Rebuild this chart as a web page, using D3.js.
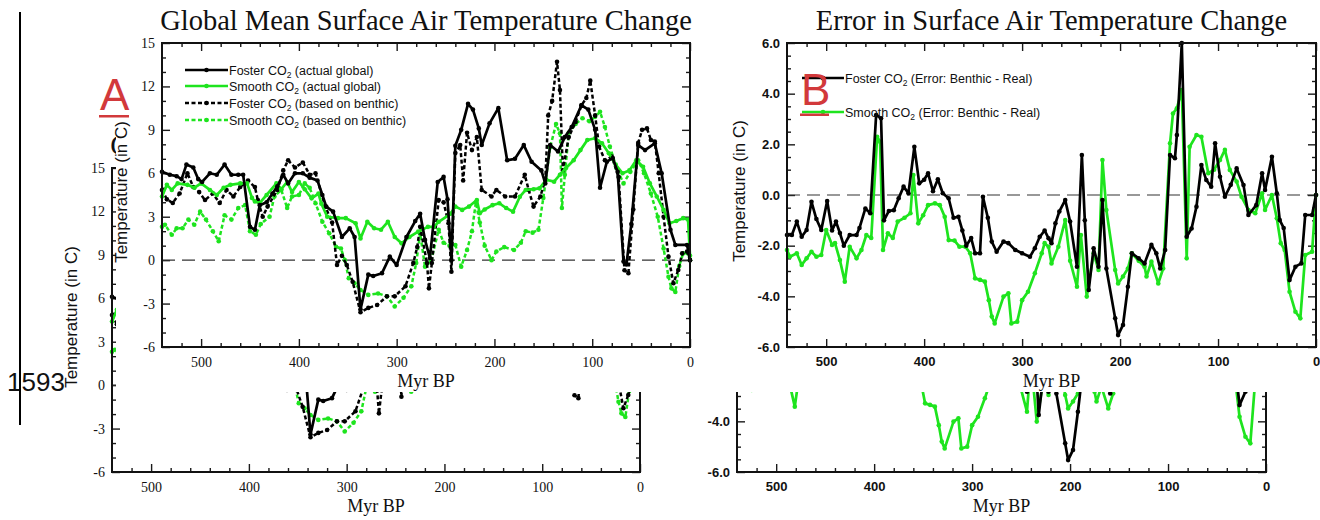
<!DOCTYPE html>
<html>
<head>
<meta charset="utf-8">
<script src="https://cdn.jsdelivr.net/npm/d3@7"></script>
<style>
  html, body { margin: 0; padding: 0; background: #fff; }
  svg { display: block; }
</style>
</head>
<body>
<svg id="chart" width="1320" height="520"></svg>
<script>
// ---- Panel A: global mean surface air temperature change (°C) vs age (Myr BP) ----
const fosterGlobal = [[540,6.1],[532,5.9],[525,5.8],[520,5.6],[515,6.6],[508,6.4],[503,5.6],[499,5.4],[491,6.0],[484,5.9],[476,6.6],[469,5.9],[462,5.9],[457,5.9],[450,2.3],[445,2.1],[440,3.8],[433,4.0],[427,4.6],[422,5.1],[416,5.9],[411,5.3],[404,6.0],[396,6.0],[389,5.7],[381,5.5],[376,4.5],[372,3.7],[365,3.35],[356,1.6],[348,2.2],[343,1.6],[337,-3.4],[329,-1.0],[324,-1.1],[315,-0.9],[307,0.24],[300,-0.34],[290,1.6],[281,2.7],[276,3.2],[271,1.4],[266,0.15],[258,5.4],[252,5.75],[248,4.2],[244,0.0],[240,7.9],[234,9.0],[227,10.8],[222,10.4],[216,9.1],[213,7.95],[205,9.45],[196,10.5],[187,6.9],[179,7.0],[170,7.95],[162,6.8],[152,6.2],[148,5.3],[143,7.95],[135,7.5],[128,8.5],[121,9.2],[111,10.7],[104,10.4],[97,9.0],[92,5.0],[85,6.8],[79,7.05],[74,6.1],[68,-0.1],[65,-0.3],[60,2.5],[53,7.95],[46,7.6],[36,8.07],[29,6.0],[20,2.1],[15,1.05],[3,1.05],[0,0]];
const smoothGlobal = [[540,4.4],[535,5.2],[530,4.85],[524,5.3],[514,5.2],[507,5.0],[500,5.3],[491,4.85],[484,4.5],[477,5.0],[470,5.2],[460,5.3],[453,5.3],[448,4.3],[445,4.05],[440,3.95],[433,4.5],[423,5.3],[418,4.9],[412,5.4],[407,4.7],[400,5.4],[394,4.9],[387,4.27],[380,4.6],[377,3.9],[371,3.0],[360,2.9],[352,2.9],[342,2.55],[337,1.5],[330,2.65],[323,2.2],[316,2.1],[309,2.65],[302,1.6],[295,1.16],[287,1.6],[278,1.97],[268,2.3],[262,2.3],[257,2.65],[245,3.2],[240,3.7],[233,3.47],[226,3.7],[218,4.15],[215,3.24],[210,3.5],[202,3.8],[195,3.93],[188,3.6],[181,3.35],[174,4.38],[168,4.85],[160,4.9],[154,4.96],[147,5.55],[139,5.42],[133,5.9],[127,6.35],[119,6.9],[112,7.6],[105,8.3],[97,8.42],[90,8.07],[83,7.38],[76,6.6],[69,6.0],[62,6.2],[55,6.9],[48,6.45],[41,5.3],[34,4.4],[27,3.47],[21,2.55],[14,2.7],[7,2.9],[2,2.8],[0,0.3]];
const fosterBenthic = [[540,4.85],[535,4.2],[529,3.95],[522,4.6],[514,6.0],[508,5.05],[502,4.7],[496,4.15],[488,4.6],[481,3.95],[474,4.85],[467,4.4],[460,5.05],[452,5.5],[445,5.05],[442,4.15],[437,3.0],[432,3.7],[422,4.85],[416,6.2],[411,6.9],[404,6.4],[396,6.75],[389,5.9],[383,6.0],[373,3.7],[366,2.6],[361,-0.34],[356,0.3],[351,-0.34],[345,-1.5],[337,-3.6],[329,-3.3],[320,-3.1],[310,-2.5],[302,-2.5],[291,-1.8],[283,-0.2],[279,0.9],[276,2.3],[269,-0.2],[267,-1.95],[264,-0.2],[257,4.15],[252,4.0],[247,2.55],[244,-0.8],[240,7.4],[235,7.95],[232,5.5],[228,8.8],[223,7.6],[218,8.5],[213,4.85],[203,4.4],[198,4.85],[189,4.4],[179,4.4],[169,5.9],[165,4.85],[160,3.7],[153,4.4],[148,5.55],[145,10.0],[141,11.0],[136,13.7],[133,11.75],[130,6.2],[124,8.5],[117,9.55],[111,10.7],[106,11.2],[102,12.4],[97,10.0],[93,7.85],[87,6.9],[80,7.15],[73,5.75],[67,-0.7],[63,-0.9],[58,3.5],[53,8.1],[49,9.0],[44,9.1],[40,8.3],[36,8.2],[32,6.0],[27,3.0],[22,0.24],[17,-1.6],[12,-0.68],[8,0.47],[3,0.6],[0,0]];
const smoothBenthic = [[540,2.3],[537,2.45],[530,1.75],[525,2.2],[519,2.2],[513,2.8],[507,2.45],[501,3.35],[495,2.8],[488,2.0],[482,1.3],[476,3.1],[469,2.8],[462,3.6],[455,3.8],[450,2.0],[444,1.75],[439,2.5],[430,3.0],[425,4.4],[418,4.85],[412,3.6],[407,4.4],[400,4.5],[394,5.3],[389,5.0],[383,3.93],[376,2.65],[369,1.85],[362,0.93],[357,0.8],[353,0.0],[349,-1.25],[343,-1.6],[337,-2.06],[329,-2.4],[319,-2.3],[310,-2.5],[302,-3.2],[293,-2.6],[285,-1.8],[280,-0.2],[276,1.85],[271,-0.45],[265,-0.1],[257,2.1],[252,1.2],[246,1.0],[240,1.05],[234,-0.45],[228,0.7],[223,2.0],[219,4.0],[215,2.6],[210,1.0],[203,0.0],[198,0.6],[190,0.9],[180,0.7],[173,1.2],[168,2.0],[161,1.9],[155,2.1],[150,4.3],[143,7.8],[137,9.4],[133,8.76],[131,3.6],[128,5.9],[124,8.8],[117,9.4],[110,9.8],[103,9.6],[97,9.9],[92,10.25],[87,9.2],[82,7.85],[75,6.35],[68,5.3],[61,6.1],[53,6.9],[47,6.0],[40,4.6],[33,3.0],[27,0.8],[22,-1.15],[19,-1.95],[15,-2.2],[11,-0.4],[7,0.47],[2,0.47],[0,0]];

// ---- Panel B: error (benthic-based minus real) in surface air temperature change ----
const fosterError = [[540,-1.58],[535,-1.58],[530,-1.05],[525,-1.65],[520,-1.38],[515,-0.27],[510,-0.95],[505,-1.38],[499,-0.24],[494,-1.4],[490,-1.05],[486,-1.5],[482,-2.0],[476,-1.58],[469,-1.58],[466,-1.3],[460,-0.53],[455,-0.72],[449,3.16],[444,3.03],[441,-1.0],[436,-0.63],[431,-0.6],[426,-0.13],[421,0.33],[416,0.07],[410,1.9],[405,0.46],[400,0.6],[396,0.86],[391,0.15],[386,0.62],[381,0.07],[375,-0.13],[370,-0.9],[365,-0.86],[361,-1.4],[357,-2.0],[352,-1.7],[348,-2.3],[343,-2.3],[340,-0.07],[335,-0.9],[331,-1.84],[326,-2.24],[319,-1.84],[314,-1.9],[307,-2.17],[300,-2.3],[292,-2.44],[287,-2.1],[282,-1.65],[277,-1.4],[273,-1.71],[270,-1.9],[266,-1.12],[262,-0.65],[256,-0.2],[251,-1.05],[244,-2.83],[239,1.58],[236,-1.0],[232,-3.75],[227,-2.1],[222,-2.83],[218,-0.2],[214,-2.9],[205,-4.87],[202,-5.53],[197,-5.13],[192,-3.62],[188,-2.3],[181,-2.5],[175,-2.7],[168,-1.97],[163,-2.3],[159,-2.9],[154,-2.17],[149,1.58],[144,1.45],[142,2.37],[137,6.0],[132,-1.65],[127,-1.32],[122,-0.46],[117,1.18],[112,0.59],[107,0.33],[103,2.04],[98,0.72],[93,-0.07],[87,0.4],[81,1.05],[74,0.39],[69,-0.79],[61,-0.4],[55,0.86],[52,0.2],[45,1.51],[40,0.07],[37,-0.99],[33,-1.3],[27,-3.36],[21,-2.83],[15,-2.7],[11,-0.79],[4,-0.79],[0,0]];
const smoothError = [[540,-2.17],[537,-2.44],[530,-2.3],[525,-2.76],[520,-2.5],[515,-2.24],[510,-2.44],[505,-2.37],[500,-1.38],[494,-1.97],[491,-1.9],[486,-2.57],[481,-3.42],[476,-2.04],[469,-2.5],[464,-2.17],[459,-1.58],[454,-1.7],[448,2.3],[445,2.1],[442,-2.17],[437,-1.51],[432,-1.7],[427,-1.05],[420,-0.9],[414,-0.72],[411,0.79],[406,-1.12],[401,-0.8],[396,-0.4],[389,-0.33],[384,-0.4],[379,-0.86],[375,-1.78],[369,-1.8],[364,-2.04],[358,-2.04],[353,-2.3],[348,-3.29],[343,-3.35],[338,-3.42],[334,-4.15],[331,-4.8],[328,-5.07],[319,-4.01],[314,-3.88],[311,-5.07],[305,-5.0],[300,-4.15],[294,-3.82],[287,-3.09],[280,-2.3],[277,-1.9],[273,-2.04],[270,-2.7],[263,-2.04],[256,-0.99],[251,-2.6],[244,-3.62],[240,-1.58],[234,-4.01],[227,-2.3],[222,-2.96],[218,1.38],[214,-0.59],[205,-2.96],[202,-3.49],[197,-3.22],[192,-2.9],[188,-2.3],[181,-2.6],[175,-2.83],[173,-3.22],[168,-2.63],[161,-3.49],[156,-2.9],[149,2.04],[146,3.22],[142,3.42],[137,4.14],[132,-2.5],[129,1.9],[122,2.37],[117,2.3],[110,0.86],[104,1.0],[98,1.38],[93,1.78],[88,0.99],[81,0.53],[76,-0.07],[69,-0.59],[62,-0.72],[55,0.07],[52,-0.59],[45,0.0],[40,-0.92],[36,-1.9],[32,-2.17],[27,-3.82],[21,-4.61],[16,-4.87],[11,-2.37],[4,-2.24],[0,0]];

// ---- Tick labels ----
const ageTicks = [500, 400, 300, 200, 100, 0];
const ageMinorTicks = [520, 480, 460, 440, 420, 380, 360, 340, 320, 280, 260, 240, 220, 180, 160, 140, 120, 80, 60, 40, 20];
const globalYTicks = [-6, -3, 0, 3, 6, 9, 12, 15];
const errorYTicks = [-6, -4, -2, 0, 2, 4, 6];

const GREEN = "#1ee41e";
const BLACK = "#000";
const RED = "#d2393b";
const SERIF = "'Liberation Serif', 'Times New Roman', serif";
const SANS = "'Liberation Sans', Arial, sans-serif";

const panels = [
  {
    title: "Global Mean Surface Air Temperature Change",
    x0: 162, x1: 690, y0: 43, y1: 347,
    yDomain: [-6, 15], yTicks: globalYTicks, yMinorStep: 1,
    fmt: d => String(d), tickFont: SERIF, tickSize: "14px", tickWeight: "normal",
    yLabelX: 127, yLabelY: 192,
    series: [
      { data: smoothBenthic, color: GREEN, dash: "4,2.5", label: ["Smooth CO", " (based on benthic)"] },
      { data: fosterBenthic, color: BLACK, dash: "4,2.5", label: ["Foster CO", " (based on benthic)"] },
      { data: smoothGlobal,  color: GREEN, dash: null,    label: ["Smooth CO", " (actual global)"] },
      { data: fosterGlobal,  color: BLACK, dash: null,    label: ["Foster CO", " (actual global)"] }
    ],
    legendOrder: [3, 2, 1, 0], legendX: [185, 228], legendY: [70, 86, 103, 120]
  },
  {
    title: "Error in Surface Air Temperature Change",
    x0: 787, x1: 1316, y0: 43, y1: 347,
    yDomain: [-6, 6], yTicks: errorYTicks, yMinorStep: 0.5,
    fmt: d => d.toFixed(1), tickFont: SANS, tickSize: "13px", tickWeight: "bold",
    yLabelX: 745, yLabelY: 191,
    series: [
      { data: smoothError, color: GREEN, dash: null, label: ["Smooth CO", " (Error: Benthic - Real)"] },
      { data: fosterError, color: BLACK, dash: null, label: ["Foster CO", " (Error: Benthic - Real)"] }
    ],
    legendOrder: [1, 0], legendX: [802, 844], legendY: [78, 112]
  }
];

function styleAxis(sel, p, withLabels) {
  sel.select(".domain").remove();
  sel.selectAll(".tick line").attr("stroke", "#1a1a1a").attr("stroke-width", 1.4);
  sel.selectAll(".tick text")
    .attr("fill", "#111")
    .style("font-family", p.tickFont)
    .style("font-size", p.tickSize)
    .style("font-weight", p.tickWeight)
    .style("display", withLabels ? null : "none");
}

function drawPanel(root, p) {
  const g = root.append("g");
  const x = d3.scaleLinear().domain([540, 0]).range([p.x0, p.x1]);
  const y = d3.scaleLinear().domain(p.yDomain).range([p.y1, p.y0]);
  const yMinor = d3.range(p.yDomain[0], p.yDomain[1] + 1e-9, p.yMinorStep)
    .filter(v => !p.yTicks.some(t => Math.abs(t - v) < 1e-9));

  // title
  g.append("text")
    .attr("x", (p.x0 + p.x1) / 2).attr("y", 30)
    .attr("text-anchor", "middle")
    .style("font-family", SERIF).style("font-size", "28.5px")
    .attr("fill", "#111")
    .text(p.title);

  // inward ticks on all four sides
  const noFmt = () => "";
  g.append("g").attr("transform", `translate(0,${p.y1})`)
    .call(d3.axisBottom(x).tickValues(ageTicks).tickSize(-8).tickPadding(10).tickFormat(d => String(d)))
    .call(s => styleAxis(s, p, true));
  g.append("g").attr("transform", `translate(0,${p.y1})`)
    .call(d3.axisBottom(x).tickValues(ageMinorTicks).tickSize(-4).tickFormat(noFmt))
    .call(s => styleAxis(s, p, false));
  g.append("g").attr("transform", `translate(0,${p.y0})`)
    .call(d3.axisTop(x).tickValues(ageTicks).tickSize(-8).tickFormat(noFmt))
    .call(s => styleAxis(s, p, false));
  g.append("g").attr("transform", `translate(0,${p.y0})`)
    .call(d3.axisTop(x).tickValues(ageMinorTicks).tickSize(-4).tickFormat(noFmt))
    .call(s => styleAxis(s, p, false));
  g.append("g").attr("transform", `translate(${p.x0},0)`)
    .call(d3.axisLeft(y).tickValues(p.yTicks).tickSize(-8).tickPadding(7).tickFormat(p.fmt))
    .call(s => styleAxis(s, p, true));
  g.append("g").attr("transform", `translate(${p.x0},0)`)
    .call(d3.axisLeft(y).tickValues(yMinor).tickSize(-4).tickFormat(noFmt))
    .call(s => styleAxis(s, p, false));
  g.append("g").attr("transform", `translate(${p.x1},0)`)
    .call(d3.axisRight(y).tickValues(p.yTicks).tickSize(-8).tickFormat(noFmt))
    .call(s => styleAxis(s, p, false));
  g.append("g").attr("transform", `translate(${p.x1},0)`)
    .call(d3.axisRight(y).tickValues(yMinor).tickSize(-4).tickFormat(noFmt))
    .call(s => styleAxis(s, p, false));

  // zero reference line
  g.append("line")
    .attr("x1", p.x0).attr("x2", p.x1)
    .attr("y1", y(0)).attr("y2", y(0))
    .attr("stroke", "#333").attr("stroke-width", 1.2)
    .attr("stroke-dasharray", "13,7");

  // series
  const line = d3.line().x(d => x(d[0])).y(d => y(d[1]));
  p.series.forEach(s => {
    g.append("path")
      .datum(s.data)
      .attr("d", line)
      .attr("fill", "none")
      .attr("stroke", s.color)
      .attr("stroke-width", s.dash ? 2.5 : 2.7)
      .attr("stroke-linejoin", "round")
      .attr("stroke-dasharray", s.dash);
    g.append("g").selectAll("circle")
      .data(s.data)
      .join("circle")
      .attr("cx", d => x(d[0])).attr("cy", d => y(d[1]))
      .attr("r", 2.3)
      .attr("fill", s.color);
  });

  // frame
  g.append("rect")
    .attr("x", p.x0).attr("y", p.y0)
    .attr("width", p.x1 - p.x0).attr("height", p.y1 - p.y0)
    .attr("fill", "none").attr("stroke", "#111").attr("stroke-width", 2);

  // legend
  p.legendOrder.forEach((si, i) => {
    const s = p.series[si];
    const ly = p.legendY[i];
    const lg = g.append("g");
    lg.append("line")
      .attr("x1", p.legendX[0]).attr("x2", p.legendX[1])
      .attr("y1", ly).attr("y2", ly)
      .attr("stroke", s.color).attr("stroke-width", 2.6)
      .attr("stroke-dasharray", s.dash);
    lg.append("circle")
      .attr("cx", (p.legendX[0] + p.legendX[1]) / 2).attr("cy", ly)
      .attr("r", 2.3).attr("fill", s.color);
    const t = lg.append("text")
      .attr("x", p.legendX[1] + 1).attr("y", ly + 4.5)
      .style("font-family", SANS).style("font-size", "12.5px")
      .attr("fill", "#111");
    t.append("tspan").text(s.label[0]);
    t.append("tspan").attr("dy", 3).style("font-size", "8.5px").text("2");
    t.append("tspan").attr("dy", -3).text(s.label[1]);
  });

  // axis titles
  g.append("text")
    .attr("x", (p.x0 + p.x1) / 2).attr("y", 387)
    .attr("text-anchor", "middle")
    .style("font-family", SERIF).style("font-size", "18px")
    .attr("fill", "#111")
    .text("Myr BP");
  g.append("text")
    .attr("transform", `translate(${p.yLabelX},${p.yLabelY}) rotate(-90)`)
    .attr("text-anchor", "middle")
    .style("font-family", SANS).style("font-size", "17px")
    .attr("fill", "#111")
    .text("Temperature (in C)");
}

function drawFigure(root) {
  panels.forEach(p => drawPanel(root, p));
}

const svg = d3.select("#chart");
svg.append("rect").attr("width", 1320).attr("height", 520).attr("fill", "#fff");

// underlying copy of the figure, offset down and to the left
drawFigure(svg.append("g").attr("transform", "translate(-50,125)"));

// front copy on its own white sheet
svg.append("rect").attr("x", 116).attr("y", 0).attr("width", 1204).attr("height", 392).attr("fill", "#fff");
drawFigure(svg.append("g"));

// annotations
svg.append("text")
  .attr("x", 7).attr("y", 391)
  .style("font-family", SANS).style("font-size", "26px")
  .attr("fill", "#111")
  .text("1593");
svg.append("line")
  .attr("x1", 20).attr("x2", 20).attr("y1", 12).attr("y2", 425)
  .attr("stroke", "#000").attr("stroke-width", 2);

const panelLetters = [
  { text: "A", x: 100, y: 110, ux: 99, uw: 30, uy: 115 },
  { text: "B", x: 801, y: 105, ux: 800, uw: 29, uy: 113.5 }
];
panelLetters.forEach(l => {
  svg.append("text")
    .attr("x", l.x).attr("y", l.y)
    .style("font-family", SANS).style("font-size", "44px")
    .attr("fill", RED)
    .text(l.text);
  svg.append("rect")
    .attr("x", l.ux).attr("y", l.uy).attr("width", l.uw).attr("height", 2.5)
    .attr("fill", RED);
});
</script>
</body>
</html>
